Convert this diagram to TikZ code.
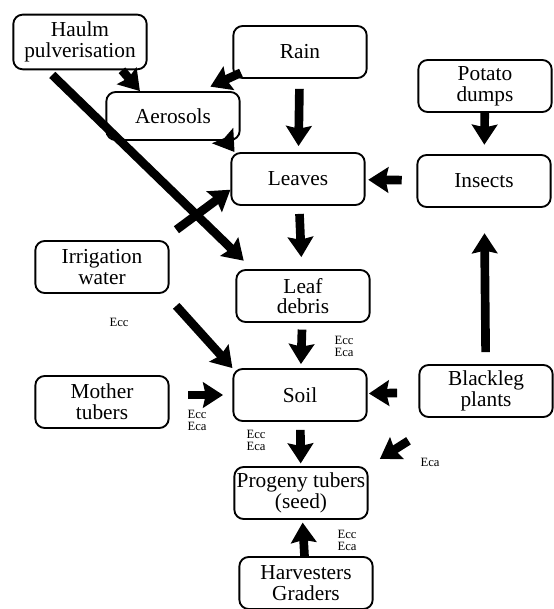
\documentclass[tikz,border=0pt]{standalone}
\usepackage{fontspec}
\setmainfont{Liberation Serif}
\usetikzlibrary{arrows.meta}

\begin{document}
\begin{tikzpicture}[x=0.75pt,y=-0.75pt,
        box/.style={draw,line width=1.4pt,rounded corners=7pt,minimum width=100pt,minimum height=39pt,
            align=center,inner sep=1pt,font=\fontsize{16}{15.5}\selectfont},
        flow/.style={line width=6.5pt,-{Stealth[length=15pt,width=19pt,inset=2pt]}},
        tag/.style={align=center,inner sep=0pt,font=\fontsize{9.5}{9}\selectfont}]
        \useasboundingbox (0,0) rectangle (553,609);

        \node[box,minimum height=41pt] (haulm) at (80,42) {Haulm\\pulverisation};
        \node[box] (rain) at (300,52) {Rain};
        \node[box,minimum height=36pt] (aero) at (173,116) {Aerosols};
        \node[box] (potato) at (485,86) {Potato\\dumps};
        \node[box] (leaves) at (298,179) {Leaves};
        \node[box] (insects) at (484,181) {Insects};
        \node[box] (irr) at (102,267) {Irrigation\\water};
        \node[box] (debris) at (303,296) {Leaf\\debris};
        \node[box] (mother) at (102,402) {Mother\\tubers};
        \node[box] (soil) at (300,395) {Soil};
        \node[box] (blackleg) at (486,391) {Blackleg\\plants};
        \node[box] (progeny) at (301,493) {Progeny tubers\\(seed)};
        \node[box] (harvest) at (306,583) {Harvesters\\Graders};

        \node[tag] (t1) at (119,322) {Ecc};
        \node[tag] (t2) at (344,346) {Ecc\\Eca};
        \node[tag] (t3) at (197,420) {Ecc\\Eca};
        \node[tag] (t4) at (256,440) {Ecc\\Eca};
        \node[tag] (t5) at (430,462) {Eca};
        \node[tag] (t6) at (347,540) {Ecc\\Eca};

        \draw[flow] (haulm.-34) -- (aero.143);
        \draw[flow,shorten <=-7pt,shorten >=8pt] (rain.200) -- (aero.42);
        \draw[flow] (aero.-25) -- (leaves.157);
        \draw[flow,shorten <=5pt,shorten >=9pt] (haulm.221) -- (debris.152);
        \draw[flow,shorten <=13pt] (irr.24) -- (leaves.189);
        \draw[flow,shorten <=12pt] (irr.-23) -- (soil.north west);
        \draw[flow,shorten <=14pt,shorten >=7pt] (mother.east |- soil.west) -- (soil.west);
        \draw[flow,shorten <=7.5pt,shorten >=4.5pt] (rain) -- (leaves);
        \draw[flow,shorten >=7pt] (potato) -- (insects);
        \draw[flow,shorten <=11pt,shorten >=2pt] (insects) -- (leaves);
        \draw[flow,shorten <=6pt,shorten >=9pt] (leaves) -- (debris);
        \draw[flow,shorten <=5pt,shorten >=3pt] (debris) -- (soil);
        \draw[flow,shorten <=9pt,shorten >=19pt] (blackleg) -- (insects);
        \draw[flow,shorten <=16pt,shorten >=1pt] (blackleg) -- (soil);
        \draw[flow,shorten <=6pt,shorten >=2pt] (soil) -- (progeny);
        \draw[flow,shorten >=2pt] (harvest) -- (progeny);
        \draw[flow,shorten <=32pt,shorten >=10pt] (blackleg.213) -- (progeny.north east);
\end{tikzpicture}
\end{document}
